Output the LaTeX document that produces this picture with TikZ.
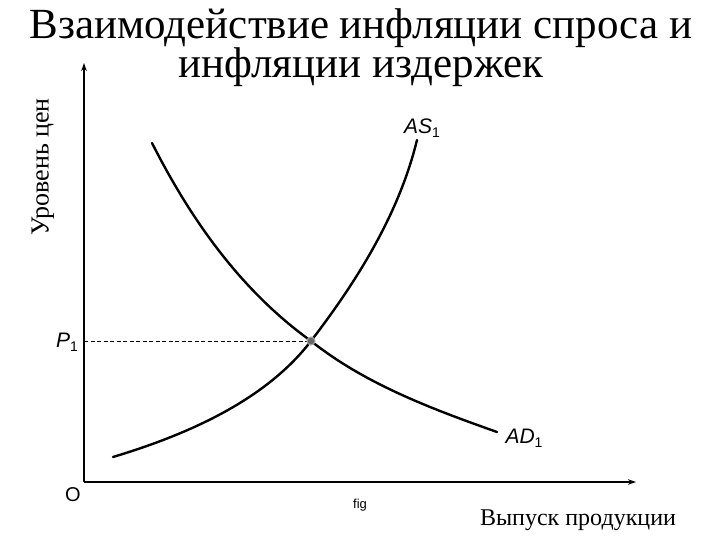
\documentclass[tikz,border=0pt]{standalone}
\usepackage{fontspec}
\setmainfont{Liberation Serif}
\newfontfamily\lsans{Liberation Sans}
\usetikzlibrary{arrows.meta}
\begin{document}
\begin{tikzpicture}[x=1pt,y=1pt,
  axisline/.style={line width=1.6pt,-{Stealth[length=8pt,width=5.5pt]}},
  curveline/.style={line width=2.4pt,line cap=round},
  titletext/.style={font=\fontsize{43}{38}\selectfont,inner sep=0pt,align=center,anchor=base},
  curvelabel/.style={font=\lsans\fontsize{21}{23}\selectfont,inner sep=0pt},
  eqpoint/.style={circle,fill=black!60,draw=black!35,line width=1pt,minimum size=8pt,inner sep=0pt}]
\useasboundingbox (0,0) rectangle (720,540);
% title
\node[titletext] (title) at (361,462) {Взаимодействие инфляции спроса и\\инфляции издержек};
% axes
\coordinate (O) at (84,58);
\coordinate (ytop) at (84,477);
\coordinate (xend) at (636,58);
\draw[axisline] (O) -- (ytop);
\draw[axisline] (O) -- (xend);
\node[rotate=90,font=\fontsize{26}{28}\selectfont,inner sep=0pt] (ylab) at (43,373) {Уровень цен};
\node[font=\fontsize{24}{26}\selectfont,inner sep=0pt] (xlab) at (578,20) {Выпуск продукции};
\node[font=\lsans\fontsize{20}{22}\selectfont,inner sep=0pt] (olab) at (73,45) {O};
\node[font=\lsans\fontsize{13}{15}\selectfont,inner sep=0pt] (fig) at (360,35) {fig};
% curves
\coordinate (E) at (311,199);
\coordinate (ad0) at (152,397);
\coordinate (ad2) at (497,108);
\coordinate (as0) at (113,83);
\coordinate (as2) at (417,400);
\draw[curveline] (ad0) .. controls (190,322) and (240,250) .. (E) .. controls (365,156) and (432,131) .. (ad2);
\draw[curveline] (as0) .. controls (186,105) and (265,139) .. (E) .. controls (357,259) and (399,326) .. (as2);
% P1 level
\coordinate (Py) at (84,199);
\draw[dashed,line width=0.8pt,dash pattern=on 4pt off 2.5pt] (Py) -- (E);
\node[eqpoint] (eq) at (E) {};
\node[curvelabel] (p1) at (67,198) {\textit{P}\raisebox{-0.35ex}{\fontsize{14}{16}\selectfont 1}};
\node[curvelabel] (as1) at (422,412) {\textit{AS}\raisebox{-0.35ex}{\fontsize{14}{16}\selectfont 1}};
\node[curvelabel] (ad1) at (524,102) {\textit{AD}\raisebox{-0.35ex}{\fontsize{14}{16}\selectfont 1}};
\end{tikzpicture}
\end{document}
